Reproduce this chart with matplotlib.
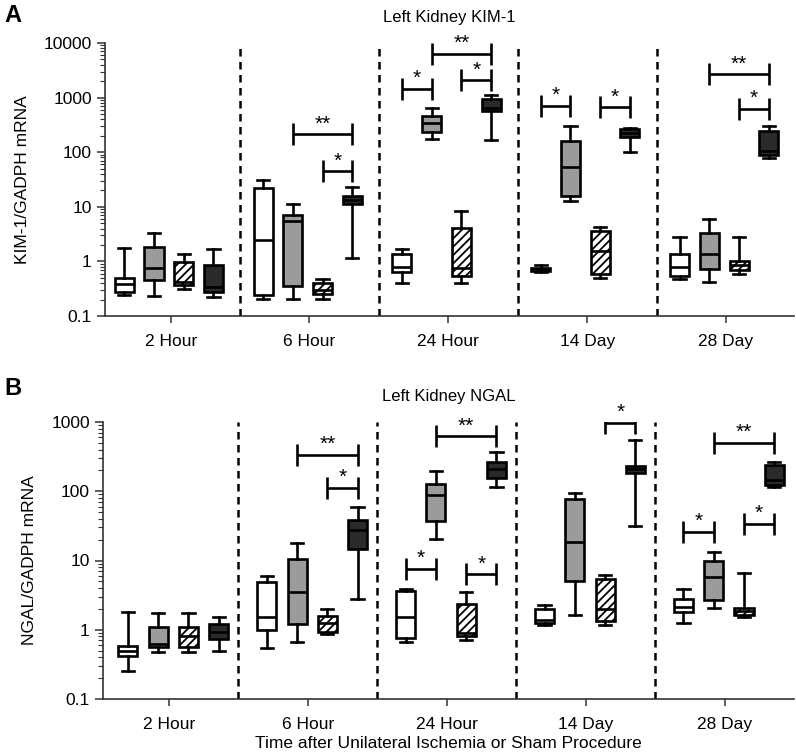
import numpy as np
import matplotlib
matplotlib.use("Agg")
import matplotlib.pyplot as plt
from matplotlib.ticker import LogLocator, FixedLocator, FuncFormatter, NullFormatter

plt.rcParams['font.family'] = ['Liberation Sans', 'DejaVu Sans']
plt.rcParams['hatch.linewidth'] = 1.3

groups = ["2 Hour", "6 Hour", "24 Hour", "14 Day", "28 Day"]

# each row: [whisker low, q1, median, q3, whisker high]
kim_white = [[0.243, 0.27, 0.386, 0.50, 1.74],
             [0.202, 0.246, 2.48, 22.5, 31],
             [0.41, 0.64, 0.80, 1.37, 1.67],
             [0.63, 0.66, 0.72, 0.77, 0.86],
             [0.47, 0.54, 0.80, 1.37, 2.77]]
kim_gray = [[0.236, 0.457, 0.77, 1.87, 3.37],
            [0.204, 0.355, 5.5, 7.1, 11.3],
            [174, 237, 340, 465, 643],
            [12.7, 15.9, 53, 162, 305],
            [0.42, 0.72, 1.37, 3.37, 5.93]]
kim_hatch = [[0.316, 0.37, 0.42, 0.99, 1.37],
             [0.202, 0.253, 0.30, 0.408, 0.476],
             [0.41, 0.54, 0.75, 4.17, 8.55],
             [0.49, 0.59, 1.58, 3.57, 4.23],
             [0.60, 0.70, 0.86, 1.02, 2.77]]
kim_dark = [[0.226, 0.27, 0.336, 0.86, 1.67],
            [1.14, 11.2, 13.4, 15.8, 23.2],
            [166, 558, 646, 951, 1096],
            [99, 190, 224, 264, 276],
            [77, 88, 103, 243, 305]]

ngal_white = [[0.254, 0.42, 0.49, 0.59, 1.79],
              [0.54, 0.98, 1.55, 4.97, 5.9],
              [0.67, 0.75, 1.52, 3.68, 3.86],
              [1.17, 1.24, 1.37, 2.0, 2.26],
              [1.24, 1.83, 2.11, 2.76, 3.94]]
ngal_gray = [[0.47, 0.57, 0.62, 1.11, 1.73],
             [0.66, 1.2, 3.56, 10.6, 17.8],
             [20.3, 37.4, 89, 128, 198],
             [1.64, 5.08, 18.2, 78, 94],
             [2.09, 2.7, 5.87, 10, 13.2]]
ngal_hatch = [[0.47, 0.57, 0.80, 1.1, 1.73],
              [0.86, 0.92, 1.25, 1.58, 2.0],
              [0.71, 0.81, 0.89, 2.36, 3.48],
              [1.17, 1.36, 1.98, 5.37, 6.2],
              [1.52, 1.64, 1.84, 2.09, 6.7]]
ngal_dark = [[0.50, 0.745, 0.92, 1.21, 1.55],
             [2.82, 14.7, 27.7, 38.7, 59],
             [115, 155, 211, 264, 364],
             [31.6, 183, 209, 234, 543],
             [117, 124, 147, 236, 264]]

# significance brackets: (group, box i, box j, y value, label)
kim_sig = [(1, 1, 3, 211, "**"), (1, 2, 3, 44.4, "*"),
           (2, 0, 1, 1432, "*"), (2, 1, 3, 6370, "**"), (2, 2, 3, 2066, "*"),
           (3, 0, 1, 708, "*"), (3, 2, 3, 661, "*"),
           (4, 1, 3, 2660, "**"), (4, 2, 3, 617, "*")]
ngal_sig = [(1, 1, 3, 337, "**"), (1, 2, 3, 111, "*"),
            (2, 1, 3, 621, "**"), (2, 0, 1, 7.66, "*"), (2, 2, 3, 6.28, "*"),
            (3, 2, 3, 968, "*"),
            (4, 0, 1, 25.7, "*"), (4, 2, 3, 33.9, "*"), (4, 1, 3, 497, "**")]

kim_ticks = [0.1, 1, 10, 100, 1000, 10000]
ngal_ticks = [0.1, 1, 10, 100, 1000]

styles = [dict(facecolor="white", hatch=None),
          dict(facecolor="#9b9b9b", hatch=None),
          dict(facecolor="white", hatch="////"),
          dict(facecolor="#2a2a2a", hatch=None)]

W, H = 796, 756
fig = plt.figure(figsize=(W / 100, H / 100), dpi=100)

LW = 1.9


def panel(rect, series, sig, ticks, title, ylabel, offsets, xlim, letter, letter_y, xlabel=None):
    ax = fig.add_axes(rect)
    ax.set_yscale("log")
    ax.set_ylim(ticks[0], ticks[-1])
    ax.set_xlim(*xlim)
    for k, data in enumerate(series):
        stats = []
        pos = []
        for g, row in enumerate(data):
            lo, q1, med, q3, hi = row
            stats.append(dict(whislo=lo, q1=q1, med=med, q3=q3, whishi=hi, fliers=[]))
            pos.append(g + offsets[k])
        bp = ax.bxp(stats, positions=pos, widths=0.137, capwidths=0.088,
                    patch_artist=True, showfliers=False,
                    boxprops=dict(edgecolor="black", linewidth=LW),
                    whiskerprops=dict(color="black", linewidth=LW),
                    capprops=dict(color="black", linewidth=LW),
                    medianprops=dict(color="black", linewidth=LW))
        for b in bp["boxes"]:
            b.set_facecolor(styles[k]["facecolor"])
            if styles[k]["hatch"]:
                b.set_hatch(styles[k]["hatch"])
        for m in bp["medians"]:
            m.set_solid_capstyle("butt")
    # dividers
    for g in range(len(groups) - 1):
        ax.axvline(g + 0.5, color="black", lw=1.8, ls=(0, (3, 2.2)), zorder=0)
    # brackets
    fig.canvas.draw()
    y0, y1 = ax.get_ylim()
    hpx = ax.get_window_extent().height
    dec_per_px = (np.log10(y1) - np.log10(y0)) / hpx
    leg = 11 * dec_per_px
    for g, i, j, yv, lab in sig:
        xa = g + offsets[i]
        xb = g + offsets[j]
        ax.plot([xa, xb], [yv, yv], color="black", lw=LW, solid_capstyle="butt")
        for xx in (xa, xb):
            ax.plot([xx, xx], [yv * 10 ** (-leg), yv * 10 ** (leg)], color="black", lw=LW,
                    solid_capstyle="butt")
        ax.text((xa + xb) / 2, yv * 10 ** (1 * dec_per_px), lab, ha="center", va="bottom",
                fontsize=15)
    ax.set_xticks(range(len(groups)))
    ax.set_xticklabels(groups, fontsize=12.5)
    ax.yaxis.set_major_locator(FixedLocator(ticks))
    ax.yaxis.set_major_formatter(FuncFormatter(lambda v, p: ("%g" % v)))
    ax.yaxis.set_minor_locator(LogLocator(base=10, subs=np.arange(2, 10), numticks=20))
    ax.yaxis.set_minor_formatter(NullFormatter())
    ax.tick_params(axis="y", which="major", labelsize=12.5, length=6, width=1.1, color="#333333")
    ax.tick_params(axis="y", which="minor", length=3.5, width=0.8, color="#333333")
    ax.tick_params(axis="x", length=5, width=1.1, color="#333333", pad=8)
    for s in ("top", "right"):
        ax.spines[s].set_visible(False)
    for s in ("left", "bottom"):
        ax.spines[s].set_color("#333333")
        ax.spines[s].set_linewidth(1.2)
    ax.set_title(title, fontsize=12, pad=15)
    ax.set_ylabel(ylabel, fontsize=12.5, labelpad=10)
    if xlabel:
        ax.set_xlabel(xlabel, fontsize=12.5, labelpad=3)
    fig.text(0.006, letter_y, letter, fontsize=17, fontweight="bold", va="top", ha="left")
    return ax


offA = [(k - 1.5) * 0.214 - 0.013 for k in range(4)]
offB = [(k - 1.5) * 0.218 + 0.031 for k in range(4)]

panel([105 / W, 440 / H, 689 / W, 273 / H], [kim_white, kim_gray, kim_hatch, kim_dark],
      kim_sig, kim_ticks, "Left Kidney KIM-1", "KIM-1/GADPH mRNA", offA, (-0.473, 4.49),
      "A", 0.995)
panel([103 / W, 57 / H, 691 / W, 277 / H], [ngal_white, ngal_gray, ngal_hatch, ngal_dark],
      ngal_sig, ngal_ticks, "Left Kidney NGAL", "NGAL/GADPH mRNA", offB, (-0.475, 4.50),
      "B", 1 - 377 / H, xlabel="Time after Unilateral Ischemia or Sham Procedure")

fig.savefig("out.png", dpi=100)
